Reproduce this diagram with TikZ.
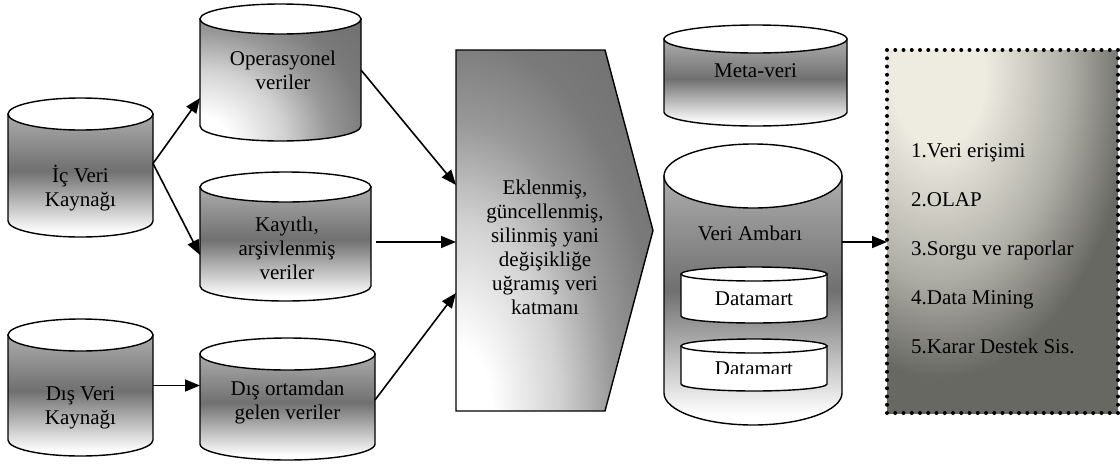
\documentclass[tikz,border=0pt]{standalone}
\usepackage{fontspec}
\setmainfont{Liberation Serif}
\usetikzlibrary{arrows.meta}

% grey tones of the shaded shapes
\definecolor{cantop}{RGB}{172,172,172}
\definecolor{canmid}{RGB}{112,112,112}
\definecolor{rlA}{RGB}{210,210,210}
\definecolor{rlB}{RGB}{152,152,152}
\definecolor{rlC}{RGB}{122,122,122}
\definecolor{rlD}{RGB}{106,106,106}
\definecolor{boxlight}{RGB}{238,236,225}
\definecolor{boxmid}{RGB}{176,175,167}
\definecolor{boxdark}{RGB}{104,104,99}

% light at the bottom, darkest a little above the middle
\pgfdeclareverticalshading{canshade}{100bp}{color(0bp)=(white); color(27bp)=(white); color(52bp)=(canmid); color(75bp)=(cantop); color(100bp)=(cantop)}
% concentric glow: white centre fading to dark grey at the rim (rim = 25bp)
\pgfdeclareradialshading{glow}{\pgfpointorigin}{color(0bp)=(white); color(3bp)=(white); color(8.7bp)=(rlA); color(13.3bp)=(rlB); color(17.3bp)=(rlC); color(25bp)=(rlD); color(50bp)=(rlD)}
% concentric cream glow for the tools box
\pgfdeclareradialshading{boxglow}{\pgfpointorigin}{color(0bp)=(boxlight); color(3.9bp)=(boxlight); color(10.8bp)=(boxmid); color(16.2bp)=(boxdark); color(25bp)=(boxdark); color(50bp)=(boxdark)}

\tikzset{
  outl/.style={draw=black, line width=1.4pt},
  arr/.style={line width=1.6pt, -{Triangle[length=15pt,width=12pt]}},
  lbl/.style={align=center, inner sep=0pt, font=\fontsize{21}{24}\selectfont},
  anchorbox/.style={inner sep=0pt, outer sep=0pt},
  dotborder/.style={draw=black, line width=4pt, line cap=round, dash pattern=on 0pt off 8.25pt},
  cangrey/.style={shading=canshade},
  canwhite/.style={fill=white},
  % glow spreading from the lower left corner of the shape
  cornerglow/.style 2 args={path picture={
      \shade[shading=glow] (path picture bounding box.south west) ellipse [x radius=#1, y radius=#2];}}
}

% vertical can: name, centre x, x radius, top y, bottom y, y radius, body style
\newcommand\drawcan[7]{%
  \path[outl, #7] (#2-#3,#4) -- (#2-#3,#5)
    arc[start angle=180, end angle=360, x radius=#3pt, y radius=#6pt]
    -- (#2+#3,#4) -- cycle;
  \path[outl, fill=white] (#2,#4) ellipse [x radius=#3pt, y radius=#6pt];
  \node[anchorbox, minimum width={2*#3*1pt}, minimum height={(#5-#4+2*#6)*1pt}] (#1) at (#2,{(#4+#5)/2}) {};
}

\begin{document}
\begin{tikzpicture}[x=1pt, y=-1pt]
\useasboundingbox (0,0) rectangle (1120,464);
\fill[white] (0,0) rectangle (1120,464);

% sources
\drawcan{ic}{80.5}{72.5}{114}{221}{16}{cangrey}
\node[lbl] (ic-t) at (80.5,188) {İç Veri\\Kaynağı};

\drawcan{dv}{80.5}{72.5}{335}{440}{16}{cangrey}
\node[lbl] (dv-t) at (80.5,408) {Dış Veri\\Kaynağı};

% intermediate stores
\drawcan{opv}{280.5}{80.5}{19}{126}{15}{cornerglow={241pt}{206pt}}
\node[lbl] (opv-t) at (283,70) {Operasyonel\\veriler};

\drawcan{kay}{285.5}{85.5}{187}{286}{15}{cangrey}
\node[lbl] (kay-t) at (287,248) {Kayıtlı,\\arşivlenmiş\\veriler};

\drawcan{do}{287.5}{87.5}{354}{444}{16}{cangrey}
\node[lbl] (do-t) at (287.5,402) {Dış ortamdan\\gelen veriler};

% change layer
\path[outl, cornerglow={296pt}{542pt}] (456,50) -- (605,50) -- (653,230.5) -- (605,411) -- (456,411) -- cycle;
\node[anchorbox, minimum width=197pt, minimum height=361pt] (layer) at (554.5,230.5) {};
\node[lbl] (layer-t) at (545,247) {Eklenmiş,\\güncellenmiş,\\silinmiş yani\\değişikliğe\\uğramış veri\\katmanı};

% metadata and warehouse
\drawcan{mv}{755.5}{91.5}{39}{112}{14}{cangrey}
\node[lbl] (mv-t) at (755.5,71) {Meta-veri};

\drawcan{va}{753}{89}{176}{393}{32}{cangrey}
\node[lbl] (va-t) at (750,233) {Veri Ambarı};

\drawcan{dm1}{754}{73}{274}{316}{7}{canwhite}
\node[lbl] (dm1-t) at (754,299) {Datamart};

\drawcan{dm2}{754}{73}{346}{384}{7}{canwhite}
\begin{scope}
  \clip (681,340) rectangle (827,373);
  \node[lbl] (dm2-t) at (754,369) {Datamart};
\end{scope}

% tools box
\path[path picture={\shade[shading=boxglow] (938,72) ellipse [x radius=300pt, y radius=472pt];}]
  (887,50) rectangle (1118,413);
\path[dotborder] (887,50) rectangle (1118,413);
\node[anchorbox, minimum width=231pt, minimum height=363pt] (apps) at (1002.5,231.5) {};
\node[lbl, align=left, anchor=west, font=\fontsize{21}{49}\selectfont] (apps-t) at (911,249)
  {1.Veri erişimi\\2.OLAP\\3.Sorgu ve raporlar\\4.Data Mining\\5.Karar Destek Sis.};

% flows
\draw[arr] ([yshift=4pt]ic.east) -- ([yshift=-25.5pt]opv.west);
\draw[arr] ([yshift=4pt]ic.east) -- ([yshift=-18.5pt]kay.west);
\draw[arr] ([yshift=2pt]dv.east) -- ([yshift=2pt]dv.east -| do.west);
\draw[arr] ([yshift=2.5pt]opv.east) -- ([yshift=45.5pt]layer.west);
\draw[arr] ([xshift=5pt,yshift=-5.5pt]kay.east) -- ([yshift=-11.5pt]layer.west);
\draw[arr] ([yshift=-1pt]do.east) -- ([yshift=-62.5pt]layer.west);
\draw[arr] ([yshift=42.5pt]va.east) -- ([yshift=42.5pt]va.east -| apps.west);
\end{tikzpicture}
\end{document}
